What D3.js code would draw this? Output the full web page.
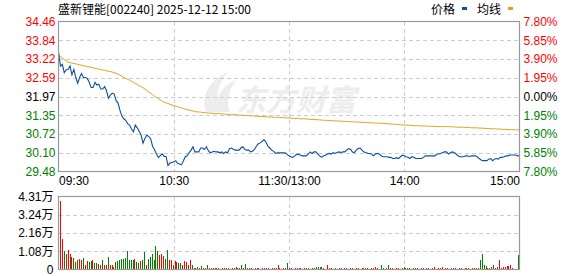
<!DOCTYPE html>
<html>
<head>
<meta charset="utf-8">
<script src="https://cdn.jsdelivr.net/npm/d3@7"></script>
<style>
  body { margin: 0; background: #fff; }
  svg { display: block; font-family: Arial, "Liberation Sans", sans-serif; }
</style>
</head>
<body>
<svg class="chart"></svg>
<script>
// Intraday minute data, 09:30 .. 15:00 (241 points)
var title = "盛新锂能[002240] 2025-12-12 15:00";
var preClose = 31.97;

var priceTicks = [34.46, 33.84, 33.22, 32.59, 31.97, 31.35, 30.72, 30.10, 29.48];
var pctLabels = ["7.80%", "5.85%", "3.90%", "1.95%", "0.00%", "1.95%", "3.90%", "5.85%", "7.80%"];
var volTicks = [0, 10800, 21600, 32400, 43100];
var volLabels = ["0", "1.08万", "2.16万", "3.24万", "4.31万"];
var timeTicks = [0, 60, 120, 180, 240];
var timeLabels = ["09:30", "10:30", "11:30/13:00", "14:00", "15:00"];

var price = [
  33.45,32.98,33.04,32.76,32.85,32.87,32.98,32.69,32.87,32.60,
  32.41,32.60,32.73,32.60,32.60,32.57,32.44,32.27,32.27,32.44,
  32.35,32.38,32.22,32.22,32.30,32.16,31.91,32.02,32.08,32.05,
  31.83,31.75,31.51,31.32,31.23,31.18,31.07,31.02,30.89,30.80,
  31.02,30.93,30.82,30.69,30.42,30.58,30.69,30.64,30.56,30.31,
  30.20,30.06,29.95,30.01,30.07,29.98,29.98,29.68,29.76,29.78,
  29.80,29.84,29.75,29.73,29.70,29.83,29.97,30.00,30.10,30.19,
  30.30,30.13,30.13,30.13,30.26,30.26,30.21,30.30,30.17,30.10,
  30.13,30.15,30.13,30.13,30.10,30.13,30.08,30.13,30.10,30.24,
  30.26,30.22,30.19,30.19,30.19,30.26,30.30,30.21,30.19,30.19,
  30.13,30.15,30.21,30.32,30.40,30.43,30.48,30.53,30.46,30.32,
  30.26,30.19,30.15,30.08,30.10,30.10,30.10,30.10,30.10,30.05,
  30.00,
  29.97,29.95,30.00,30.05,30.05,30.02,30.00,30.00,30.00,30.06,
  30.13,30.08,30.13,30.13,30.06,30.00,29.95,30.00,30.02,30.06,
  30.08,30.06,30.11,30.08,30.11,30.13,30.11,30.13,30.13,30.19,
  30.24,30.22,30.13,30.11,30.19,30.24,30.26,30.19,30.13,30.11,
  30.08,30.08,30.06,30.00,30.06,30.08,30.06,30.00,29.97,29.97,
  29.97,29.95,29.95,29.91,29.91,29.94,29.91,29.97,30.02,30.00,
  29.97,29.95,29.91,29.97,29.95,29.91,29.91,29.91,29.91,29.95,
  30.00,30.00,30.00,30.00,30.00,30.00,30.06,30.06,30.08,30.11,
  30.13,30.13,30.06,30.10,30.13,30.11,30.06,30.00,29.97,29.97,
  29.97,30.00,30.00,29.97,30.00,30.00,30.00,29.97,29.91,29.86,
  29.84,29.84,29.84,29.89,29.91,29.84,29.89,29.91,29.89,29.95,
  29.95,29.97,30.00,30.00,30.03,30.03,30.03,30.03,30.00,30.00
];

var avgPrice = [
  33.36,33.30,33.25,33.20,33.15,33.11,33.10,33.08,33.07,33.05,33.04,
  33.02,33.01,32.99,32.98,32.96,32.95,32.94,32.92,32.91,32.89,
  32.88,32.86,32.85,32.84,32.82,32.81,32.80,32.78,32.76,32.74,
  32.71,32.68,32.64,32.61,32.57,32.54,32.51,32.47,32.44,32.40,
  32.37,32.33,32.30,32.26,32.22,32.17,32.12,32.08,32.03,31.98,
  31.94,31.90,31.86,31.82,31.78,31.76,31.74,31.71,31.69,31.67,
  31.65,31.63,31.61,31.59,31.57,31.55,31.54,31.52,31.50,31.49,
  31.47,31.46,31.46,31.45,31.44,31.44,31.43,31.42,31.42,31.41,
  31.41,31.40,31.40,31.40,31.39,31.39,31.38,31.38,31.37,31.37,
  31.37,31.36,31.36,31.35,31.35,31.35,31.34,31.34,31.33,31.33,
  31.33,31.32,31.32,31.31,31.31,31.31,31.30,31.30,31.29,31.29,
  31.29,31.28,31.28,31.28,31.27,31.27,31.27,31.26,31.26,31.26,
  31.25,31.25,31.24,31.24,31.24,31.23,31.23,31.23,31.22,31.22,
  31.21,31.21,31.21,31.20,31.20,31.19,31.19,31.18,31.18,31.17,
  31.17,31.17,31.16,31.16,31.16,31.15,31.15,31.15,31.14,31.14,
  31.14,31.13,31.13,31.13,31.12,31.12,31.12,31.11,31.11,31.11,
  31.10,31.10,31.10,31.09,31.09,31.09,31.08,31.08,31.08,31.07,
  31.07,31.06,31.06,31.05,31.05,31.04,31.04,31.03,31.03,31.02,
  31.02,31.02,31.01,31.01,31.00,31.00,31.00,31.00,30.99,30.99,
  30.99,30.99,30.98,30.98,30.98,30.98,30.98,30.97,30.97,30.97,
  30.97,30.97,30.97,30.97,30.96,30.96,30.96,30.95,30.95,30.95,
  30.95,30.94,30.94,30.94,30.93,30.93,30.93,30.93,30.92,30.92,
  30.92,30.91,30.91,30.91,30.90,30.90,30.90,30.89,30.89,30.89,
  30.88,30.88,30.88,30.87,30.87,30.87,30.87,30.86,30.86,30.86
];

// volume per minute (shares) and bar colour: r = up, g = down
var volume = [
  40200,18200,11200,9400,11800,9400,7300,6900,4300,5900,
  6300,5500,6900,2400,4900,4300,5300,5900,3900,3900,
  3400,2900,5900,2400,2400,7400,2900,2900,1600,4300,
  4900,5500,6300,6300,6900,10800,5500,5900,5500,6300,
  4300,3900,4900,5900,10200,2900,6300,7400,9400,5900,
  13700,10800,8800,9400,8200,6300,11400,5500,5500,2900,
  4900,4300,3900,3900,2400,4900,4300,2900,5900,2900,
  1000,1000,1400,1000,2000,1000,1000,2900,
  800,600,1000,600,800,600,400,600,800,600,
  600,400,800,600,1400,600,800,2400,600,3500,
  800,1000,600,400,800,600,600,400,600,800,
  600,600,400,600,800,600,2900,600,400,600,
  600,3900,800,600,400,600,600,800,600,400,
  600,800,600,400,600,600,1600,1600,1400,1200,
  600,400,2900,600,600,400,600,400,800,600,
  400,600,600,400,1000,800,400,600,600,400,
  800,600,1000,600,400,600,600,1200,600,400,
  2900,600,400,600,2900,600,800,400,600,600,
  400,800,1600,600,800,600,400,600,800,600,
  400,600,600,400,600,600,400,1000,1600,400,
  800,600,1600,400,600,600,400,600,800,600,
  400,600,600,400,600,800,600,400,600,800,
  600,800,
  5900,9400,2400,2000,800,1000,1400,2400,1000,1600,
  5900,600,1200,1600,2000,2000,2900,600,300,300,8800
];
var volColor = (
  "rrgrrrgrgg" + "rrgrrggrgr" + "grgrrgrrrg" + "gggggggggr" + "ggrggrgggg" +
  "ggrrrggrrg" + "rrggrrrgrg" + "rrgrgrrg" +
  "rgrrgrgrrg" + "rrgrgrrgrg" + "rgrrgrgrrg" + "rrgrrgrrgr" + "rgrrgrrgrr" +
  "rgrrgrgggg" + "rrrrgrrgrr" + "rgrrggrrrg" + "rrgrrgrrrg" + "ggrrgrrrrr" +
  "rgggrgrrgr" + "rrgrrgrrrr" + "rrrgrrgrgr" + "rrgrrgrrrr" + "rg" +
  "ggggrrgrgg" + "rrrrrrrrrrg"
).split("");

var RED = "#ff0000", GREEN = "#008000", GRID = "#cccccc", BORDER = "#999999";

var width = 578, height = 276;
var left = 58.5, right = 519.5;
var pTop = 21.5, pBottom = 171.5;
var vTop = 196.5, vBottom = 269.5;

var svg = d3.select(".chart")
    .attr("width", width)
    .attr("height", height);

// Scales
var x = d3.scaleLinear().domain([0, 240]).range([left, right]);
var xBar = d3.scaleLinear().domain([0, 240]).range([60, 518]);
var y = d3.scaleLinear().domain([29.48, 34.46]).range([pBottom, pTop]);
var yVol = d3.scaleLinear().domain([0, 43100]).range([vBottom, vTop]);

function tickColor(v) {
    if (Math.abs(v - preClose) < 0.005) return "#000";
    return v > preClose ? RED : GREEN;
}

// Watermark
var wm = svg.append("g").attr("fill", "#ededed");
wm.append("path")
    .attr("d", "M206,112 C200,95 210,80 228,72 C218,84 214,98 220,112 Z M216,112 C214,98 222,86 236,80 C228,92 226,102 230,112 Z");
wm.append("text")
    .attr("x", 236).attr("y", 111)
    .attr("font-family", "'Noto Sans CJK SC', sans-serif")
    .attr("font-size", 30)
    .attr("font-weight", "bold")
    .attr("font-style", "italic")
    .text("东方财富");

// Title + legend
svg.append("text")
    .attr("x", 58).attr("y", 14)
    .attr("font-family", "'Noto Sans CJK SC', sans-serif")
    .attr("font-size", 12)
    .text(title);

var legend = [
    { label: "价格", tx: 431, rx: 462, color: "#0b4f9e" },
    { label: "均线", tx: 477, rx: 508, color: "#e0a020" }
];
legend.forEach(function(d) {
    svg.append("text")
        .attr("x", d.tx).attr("y", 14)
        .attr("font-family", "'Noto Sans CJK SC', sans-serif")
        .attr("font-size", 12)
        .text(d.label);
    svg.append("rect")
        .attr("x", d.rx).attr("y", 7)
        .attr("width", 5).attr("height", 3)
        .attr("fill", d.color);
});

// Grid lines - price panel
var grid = svg.append("g")
    .attr("stroke", GRID)
    .attr("stroke-dasharray", "4,3")
    .attr("shape-rendering", "crispEdges");

grid.selectAll(".hp")
        .data(priceTicks.slice(1, -1))
    .enter().append("line")
        .attr("x1", left).attr("x2", right)
        .attr("y1", function(d) { return Math.round(y(d)) + 0.5; })
        .attr("y2", function(d) { return Math.round(y(d)) + 0.5; });

grid.selectAll(".hv")
        .data(volTicks.slice(1, -1))
    .enter().append("line")
        .attr("x1", left).attr("x2", right)
        .attr("y1", function(d) { return Math.round(yVol(d)) + 0.5; })
        .attr("y2", function(d) { return Math.round(yVol(d)) + 0.5; });

grid.selectAll(".vp")
        .data(timeTicks.slice(1, -1))
    .enter().append("line")
        .attr("x1", function(d) { return Math.round(x(d)) + 0.5; })
        .attr("x2", function(d) { return Math.round(x(d)) + 0.5; })
        .attr("y1", pTop).attr("y2", pBottom);

grid.selectAll(".vv")
        .data(timeTicks.slice(1, -1))
    .enter().append("line")
        .attr("x1", function(d) { return Math.round(x(d)) + 0.5; })
        .attr("x2", function(d) { return Math.round(x(d)) + 0.5; })
        .attr("y1", vTop).attr("y2", vBottom);

// Volume bars
svg.append("g")
    .attr("shape-rendering", "crispEdges")
    .selectAll(".bar")
        .data(volume)
    .enter().append("rect")
        .attr("class", "bar")
        .attr("x", function(d, i) { return Math.round(xBar(i)); })
        .attr("y", function(d) { return yVol(d); })
        .attr("width", 1)
        .attr("height", function(d) { return vBottom - yVol(d); })
        .attr("fill", function(d, i) { return volColor[i] === "r" ? RED : GREEN; });

// Average line and price line
var line = d3.line()
    .x(function(d, i) { return x(i); })
    .y(function(d) { return y(d); });

svg.append("path")
    .datum(avgPrice)
    .attr("fill", "none")
    .attr("stroke", "#e0a020")
    .attr("stroke-width", 1)
    .attr("d", line);

svg.append("path")
    .datum(price)
    .attr("fill", "none")
    .attr("stroke", "#0b4f9e")
    .attr("stroke-width", 1.1)
    .attr("d", line);

// Panel borders
[[pTop, pBottom], [vTop, vBottom]].forEach(function(p) {
    svg.append("rect")
        .attr("x", left).attr("y", p[0])
        .attr("width", right - left).attr("height", p[1] - p[0])
        .attr("fill", "none")
        .attr("stroke", BORDER)
        .attr("stroke-width", 1.2);
});

// Left price axis
var yAxis = d3.axisLeft(y)
    .tickValues(priceTicks)
    .tickSize(0)
    .tickPadding(3)
    .tickFormat(d3.format(".2f"));

var ya = svg.append("g")
    .attr("transform", "translate(" + left + ",0)")
    .call(yAxis);
ya.select(".domain").remove();
ya.selectAll("text")
    .attr("font-size", 12)
    .attr("font-family", "Arial, 'Liberation Sans', sans-serif")
    .attr("fill", function(d) { return tickColor(d); });

// Right percent axis
var yPct = d3.axisRight(y)
    .tickValues(priceTicks)
    .tickSize(0)
    .tickPadding(4)
    .tickFormat(function(d, i) { return pctLabels[i]; });

var yr = svg.append("g")
    .attr("transform", "translate(" + right + ",0)")
    .call(yPct);
yr.select(".domain").remove();
yr.selectAll("text")
    .attr("font-size", 12)
    .attr("font-family", "Arial, 'Liberation Sans', sans-serif")
    .attr("fill", function(d) { return tickColor(d); });

// Volume axis
var vAxis = d3.axisLeft(yVol)
    .tickValues(volTicks)
    .tickSize(0)
    .tickPadding(5)
    .tickFormat(function(d, i) { return volLabels[i]; });

var va = svg.append("g")
    .attr("transform", "translate(" + left + ",0)")
    .call(vAxis);
va.select(".domain").remove();
va.selectAll("text")
    .attr("font-size", 12)
    .attr("font-family", "Arial, 'Liberation Sans', 'Noto Sans CJK SC', sans-serif")
    .attr("fill", "#000");

// Time axis
var xAxis = d3.axisBottom(x)
    .tickValues(timeTicks)
    .tickSize(0)
    .tickPadding(5)
    .tickFormat(function(d, i) { return timeLabels[i]; });

var xa = svg.append("g")
    .attr("transform", "translate(0," + pBottom + ")")
    .call(xAxis);
xa.select(".domain").remove();
xa.selectAll("text")
    .attr("font-size", 12)
    .attr("font-family", "Arial, 'Liberation Sans', sans-serif")
    .attr("fill", "#000")
    .attr("text-anchor", function(d, i) {
        return i === 0 ? "start" : (i === timeTicks.length - 1 ? "end" : "middle");
    });
</script>
</body>
</html>
